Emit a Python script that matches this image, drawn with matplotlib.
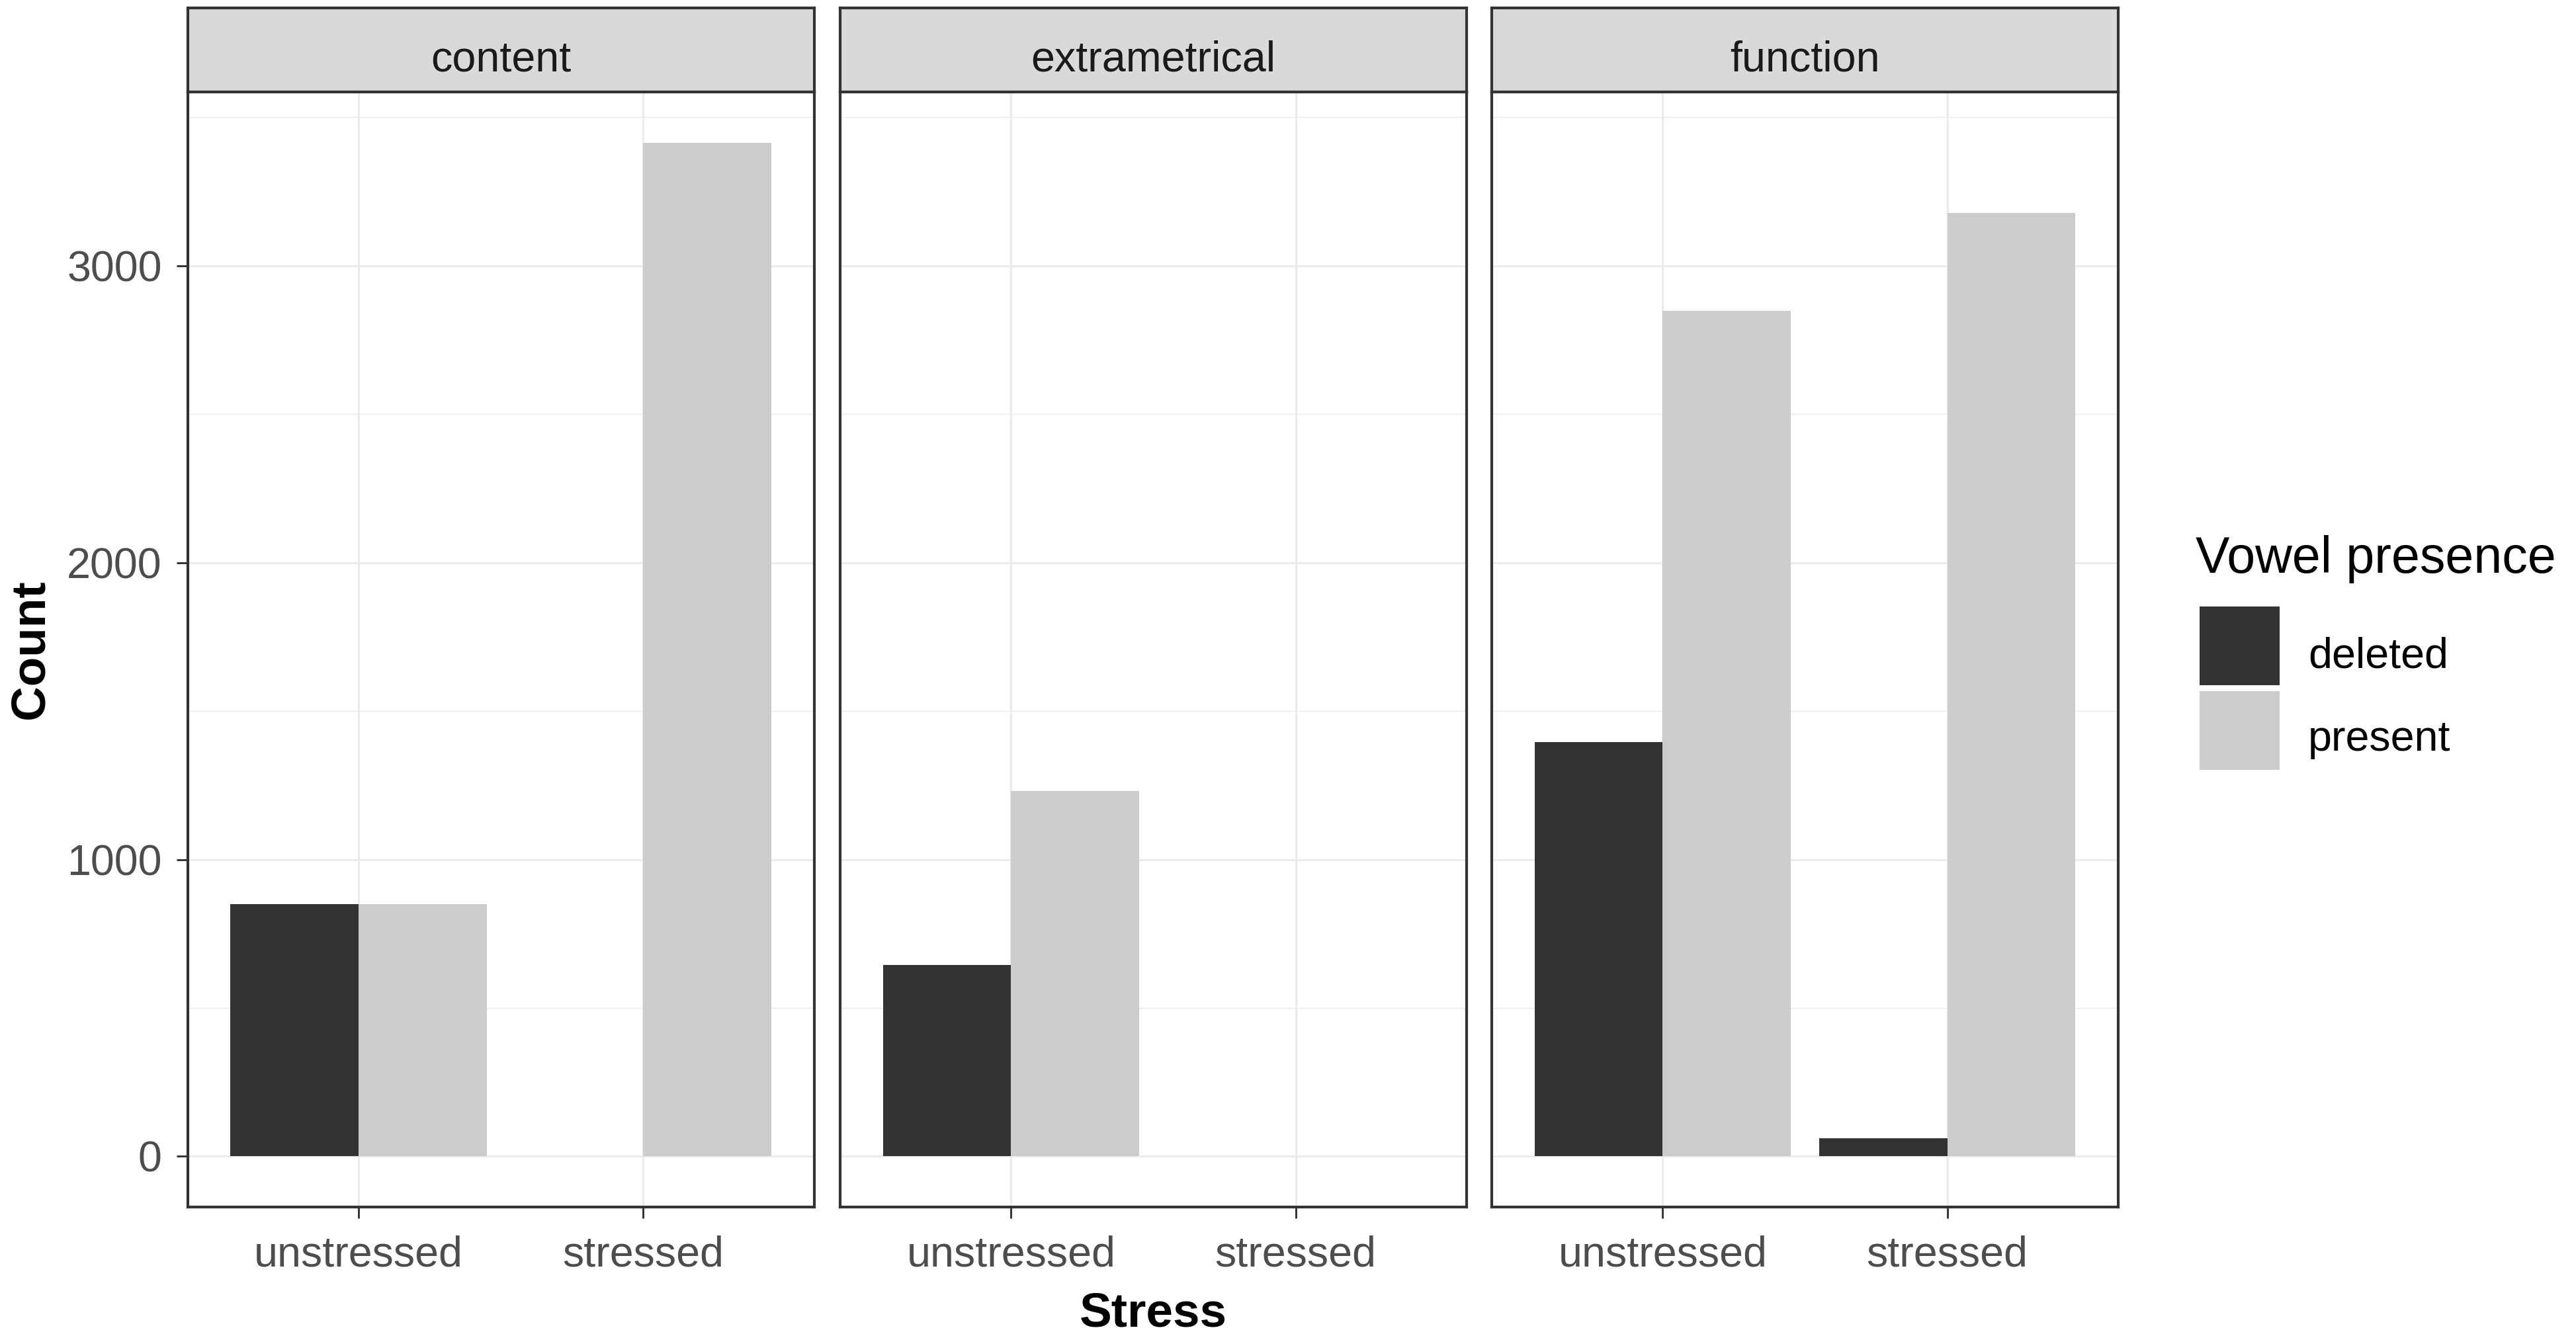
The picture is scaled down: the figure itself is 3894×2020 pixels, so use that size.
# facet bar chart: vowel presence by stress and word class

import matplotlib.pyplot as plt
from matplotlib.patches import Rectangle
import numpy as np

plt.rcParams['font.family'] = ['Liberation Sans', 'DejaVu Sans']

facets = ['content', 'extrametrical', 'function']
stress_levels = ['unstressed', 'stressed']
vowel_levels = ['deleted', 'present']

# counts per facet, in stress_levels order
deleted_counts = [[850, 0], [645, 0], [1395, 60]]
present_counts = [[850, 3415], [1230, 0], [2848, 3177]]

y_ticks = [0, 1000, 2000, 3000]
y_minor = [500, 1500, 2500, 3500]

W, H, DPI = 3895, 2020, 300
DARK, LIGHT = '#333333', '#CCCCCC'
GRID = '#EBEBEB'
SMALL = 15.5


def fx(px):
    return px / W


def fy(py):
    return 1 - py / H


fig = plt.figure(figsize=(W / DPI, H / DPI), dpi=DPI, facecolor='white')

panel_lefts = [283.6, 1270, 2255]
panel_w = 947
panel_top, panel_bot = 139, 1825
strip_top = 11.5

ymax = max(max(max(r) for r in deleted_counts), max(max(r) for r in present_counts))
pad = 0.05 * ymax

x = np.arange(len(stress_levels))
for i, name in enumerate(facets):
    ax = fig.add_axes([fx(panel_lefts[i]), fy(panel_bot), panel_w / W,
                       (panel_bot - panel_top) / H])
    ax.bar(x - 0.225, deleted_counts[i], width=0.45, color=DARK, linewidth=0)
    ax.bar(x + 0.225, present_counts[i], width=0.45, color=LIGHT, linewidth=0)
    ax.set_xlim(-0.6, len(stress_levels) - 0.4)
    ax.set_ylim(-pad, ymax + pad)
    ax.set_xticks(x, stress_levels)
    ax.set_yticks(y_ticks, [str(v) for v in y_ticks])
    ax.set_yticks(y_minor, minor=True)
    ax.grid(which='major', color=GRID, linewidth=0.7)
    ax.grid(which='minor', axis='y', color=GRID, linewidth=0.35)
    ax.set_axisbelow(True)
    for s in ax.spines.values():
        s.set_color(DARK)
        s.set_linewidth(1.0)
    ax.tick_params(which='minor', length=0)
    ax.tick_params(axis='x', which='major', length=4, width=0.7, color=DARK,
                   pad=6.3, labelsize=SMALL, labelcolor='#4D4D4D')
    ax.tick_params(axis='y', which='major', length=4, width=0.7, color=DARK,
                   pad=5.3, labelsize=SMALL, labelcolor='#4D4D4D')
    if i > 0:
        ax.tick_params(axis='y', which='major', length=0, labelleft=False)

    # strip on top
    sax = fig.add_axes([fx(panel_lefts[i]), fy(panel_top), panel_w / W,
                        (panel_top - strip_top) / H])
    sax.set_facecolor('#D9D9D9')
    sax.set_xticks([])
    sax.set_yticks([])
    for s in sax.spines.values():
        s.set_color(DARK)
        s.set_linewidth(1.0)
    fig.text(fx(panel_lefts[i] + panel_w / 2), fy(108), name, ha='center',
             va='baseline', fontsize=SMALL, color='#1A1A1A')

# axis titles
fig.text(fx(47), fy((panel_top + panel_bot) / 2), 'Count', rotation=90,
         ha='center', va='center', fontsize=17.5, fontweight='bold')
fig.text(fx(panel_lefts[1] + panel_w / 2), fy(2005), 'Stress', ha='center',
         va='baseline', fontsize=17.5, fontweight='bold')

# legend
fig.text(fx(3319), fy(866), 'Vowel presence', ha='left', va='baseline',
         fontsize=18.5)
key_x, key_w, key_top, key_h, key_step = 3325, 121, 917, 119, 128
for k, (lab, col) in enumerate(zip(vowel_levels, [DARK, LIGHT])):
    top = key_top + k * key_step
    fig.add_artist(Rectangle((fx(key_x), fy(top + key_h)), key_w / W, key_h / H,
                             transform=fig.transFigure, facecolor=col,
                             edgecolor='none'))
    fig.text(fx(3489), fy(1010 + k * 125), lab, ha='left', va='baseline',
             fontsize=SMALL)

fig.savefig('out.png', dpi=DPI)
